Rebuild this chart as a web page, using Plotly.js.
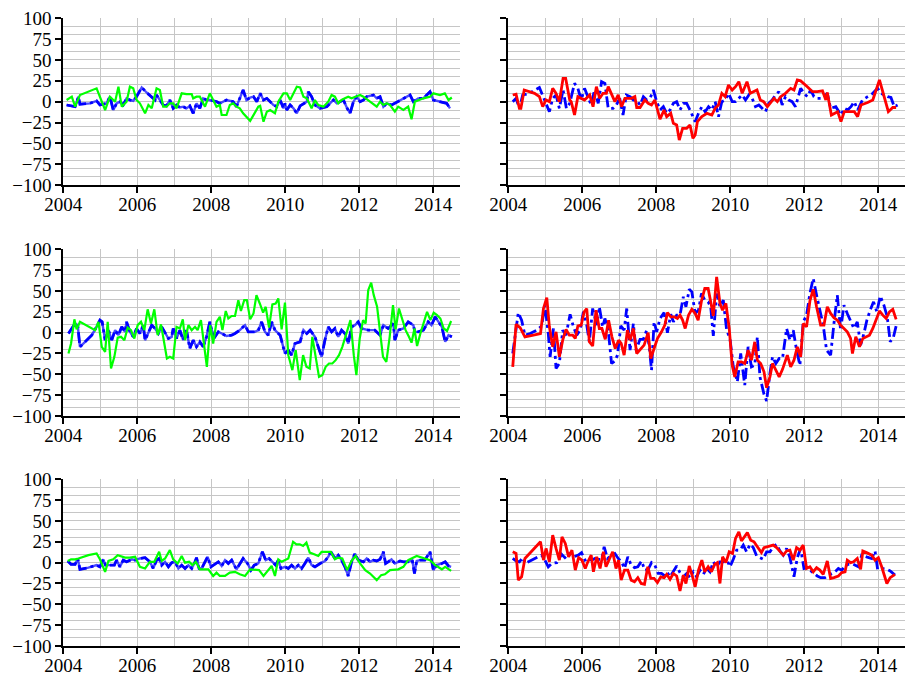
<!DOCTYPE html>
<html>
<head>
<meta charset="utf-8">
<script src="https://cdn.plot.ly/plotly-3.0.1.min.js"></script>
<style>html,body{margin:0;padding:0;background:#fff;}#chart{width:908px;height:676px;}</style>
</head>
<body>
<div id="chart"></div>
<script>
// ---------- data (decimal years, values) ----------
// Panel 1 (top-left)
var p1BlueX = [2004.09,2004.23,2004.32,2004.41,2004.45,2004.72,2004.90,2004.99,
  2005.17,2005.26,2005.35,2005.44,2005.53,2005.62,2005.71,2005.80,2005.89,2005.98,
  2006.12,2006.25,2006.39,2006.48,2006.52,2006.61,2006.70,2006.79,2006.88,2006.97,
  2007.06,2007.15,2007.24,2007.33,2007.42,2007.51,2007.60,2007.69,2007.78,2007.87,2007.96,
  2008.14,2008.23,2008.41,2008.59,2008.68,2008.77,2008.86,2008.95,
  2009.05,2009.14,2009.23,2009.32,2009.41,2009.50,2009.59,2009.68,2009.77,2009.86,2009.95,2009.99,
  2010.04,2010.13,2010.22,2010.31,2010.40,2010.49,2010.58,2010.62,2010.71,2010.80,2010.94,
  2011.12,2011.30,2011.39,2011.48,2011.57,2011.66,2011.75,2011.84,2011.93,
  2012.02,2012.11,2012.20,2012.38,2012.47,2012.56,2012.65,2012.74,2012.87,2012.96,
  2013.05,2013.14,2013.23,2013.37,2013.46,2013.59,2013.73,2013.91,
  2014.00,2014.18,2014.36,2014.45];
var p1BlueY = [-4,-5,-6,6,-3,-2,1,-4,
  -2,6,-10,-2,0,-4,4,2,1,6,
  17,11,6,2,8,2,-4,-5,2,-8,
  -4,-7,-6,-8,-5,-14,-2,-8,4,2,2,
  0,-2,2,0,-6,4,14,2,
  5,6,0,10,2,4,0,-4,-6,2,-8,-2,
  -10,-4,-8,-14,-5,-2,0,12,6,-4,-8,
  -6,2,-2,0,2,-7,-14,0,6,
  0,2,6,8,4,6,-6,-2,-4,-2,
  0,2,4,8,0,4,4,12,
  2,0,-2,-8];
var p1GreenX = [2004.09,2004.23,2004.32,2004.45,2004.90,2004.99,
  2005.13,2005.26,2005.40,2005.49,2005.58,2005.71,2005.80,2005.89,2005.98,
  2006.07,2006.21,2006.30,2006.39,2006.52,2006.61,2006.70,2006.79,2006.88,2006.97,
  2007.06,2007.20,2007.33,2007.47,2007.51,2007.60,2007.69,2007.83,2007.96,
  2008.05,2008.14,2008.23,2008.28,2008.41,2008.50,2008.59,2008.68,2008.77,2008.86,
  2009.05,2009.27,2009.32,2009.41,2009.50,2009.59,2009.72,2009.81,2009.95,
  2010.04,2010.13,2010.31,2010.40,2010.49,2010.58,2010.71,2010.80,2010.89,
  2011.03,2011.16,2011.25,2011.34,2011.43,2011.52,2011.61,2011.70,2011.79,2011.93,
  2012.02,2012.11,2012.47,2012.56,2012.65,2012.74,2012.83,2012.96,
  2013.05,2013.19,2013.32,2013.41,2013.50,2013.73,2013.91,
  2014.00,2014.18,2014.31,2014.41,2014.50];
var p1GreenY = [2,6,-6,8,16,6,
  -10,6,0,18,-6,0,18,16,2,
  -2,-14,-4,-8,16,14,-6,-6,-2,-2,
  -8,10,9,9,4,6,6,-6,10,
  2,-6,-4,-16,-16,-4,-2,-6,-8,-14,
  -23,-6,-5,-24,-12,-10,-14,0,10,
  10,2,18,17,6,4,-8,2,-4,
  -6,0,8,6,-2,2,4,6,4,6,
  8,6,-6,0,-4,-2,-4,-12,
  -6,-10,-6,-21,0,4,6,
  10,8,10,2,5];

// Panel 2 (top-right)
var p2BlueX = [2004.12,2004.21,2004.30,2004.39,2004.57,2004.71,2004.84,2004.98,
  2005.11,2005.20,2005.29,2005.38,2005.48,2005.57,2005.66,2005.79,2005.88,2005.97,
  2006.06,2006.15,2006.24,2006.33,2006.43,2006.52,2006.61,2006.70,2006.83,2006.92,
  2007.01,2007.10,2007.19,2007.29,2007.38,2007.47,2007.56,2007.65,2007.74,2007.83,2007.92,
  2008.01,2008.10,2008.19,2008.28,2008.37,2008.46,2008.55,2008.64,2008.73,2008.82,2008.91,
  2009.05,2009.14,2009.23,2009.32,2009.41,2009.50,2009.59,2009.68,2009.77,2009.86,2009.95,
  2010.05,2010.14,2010.23,2010.32,2010.41,2010.50,2010.59,2010.68,2010.77,2010.86,2010.95,
  2011.04,2011.13,2011.22,2011.31,2011.40,2011.49,2011.58,2011.67,2011.76,2011.90,2011.99,
  2012.08,2012.17,2012.26,2012.35,2012.49,2012.62,2012.71,2012.85,2012.99,
  2013.08,2013.17,2013.26,2013.35,2013.44,2013.57,2013.71,2013.85,2013.98,
  2014.07,2014.25,2014.34,2014.43,2014.52];
var p2BlueY = [0,4,-8,8,10,14,17,2,
  -12,4,8,-8,14,-8,-2,22,16,2,
  16,6,-4,14,-2,24,22,-8,-8,-4,
  4,-16,8,6,2,2,-4,6,2,4,14,
  0,-10,-6,-14,-10,-2,0,-10,-2,-2,-10,
  -24,-14,-6,-12,-6,-10,0,-18,0,2,10,
  0,0,4,8,2,8,4,-6,-4,-8,-12,
  -2,2,8,12,-4,6,2,0,-6,16,10,
  6,14,6,4,4,10,-8,-6,-16,
  -8,-10,-6,0,-10,2,6,10,16,
  10,6,5,-6,-4];
var p2RedX = [2004.12,2004.21,2004.30,2004.34,2004.43,2004.57,2004.71,2004.84,2004.93,
  2005.02,2005.11,2005.20,2005.29,2005.38,2005.48,2005.55,2005.66,2005.70,2005.79,2005.88,2005.97,
  2006.06,2006.20,2006.29,2006.38,2006.47,2006.56,2006.65,2006.70,2006.79,2006.88,2006.97,
  2007.06,2007.15,2007.33,2007.42,2007.47,2007.56,2007.69,2007.78,2007.87,2007.96,
  2008.10,2008.21,2008.28,2008.39,2008.46,2008.55,2008.62,2008.71,2008.82,2008.91,2008.99,
  2009.05,2009.11,2009.23,2009.37,2009.50,2009.59,2009.68,2009.77,2009.86,2009.95,
  2010.05,2010.14,2010.23,2010.32,2010.45,2010.54,2010.72,2010.81,2010.90,
  2011.00,2011.18,2011.27,2011.36,2011.49,2011.63,2011.72,2011.81,2011.90,
  2012.08,2012.22,2012.35,2012.49,2012.58,2012.62,2012.73,2012.90,2012.99,
  2013.08,2013.26,2013.35,2013.44,2013.53,2013.71,2013.85,
  2014.03,2014.16,2014.27,2014.39,2014.48];
var p2RedY = [8,9,-8,-8,14,12,10,6,-6,
  2,0,16,10,0,28,28,2,0,-16,6,4,
  2,8,-6,18,4,10,10,18,8,0,8,
  -6,4,4,6,-7,-7,2,-2,-4,2,
  -21,-10,-18,-14,-26,-28,-46,-32,-32,-28,-44,
  -40,-24,-18,-14,-16,-8,-4,10,6,20,
  14,18,24,10,24,10,14,2,0,
  -6,4,0,6,10,16,14,26,25,
  18,12,12,13,2,11,-16,-12,-24,
  -12,-12,-12,-18,-4,-1,2,
  26,4,-12,-7,-7];

// Panel 3 (middle-left)
var p3BlueX = [2004.14,2004.23,2004.32,2004.39,2004.45,2004.59,2004.77,2004.90,2004.99,
  2005.05,2005.13,2005.22,2005.31,2005.40,2005.49,2005.58,2005.67,2005.71,2005.80,2005.89,2005.98,
  2006.07,2006.16,2006.21,2006.30,2006.39,2006.48,2006.57,2006.66,2006.75,2006.84,2006.93,2006.97,
  2007.06,2007.15,2007.24,2007.33,2007.42,2007.51,2007.60,2007.69,2007.78,2007.87,2007.96,
  2008.01,2008.10,2008.19,2008.28,2008.41,2008.55,2008.64,2008.77,2008.91,
  2009.00,2009.18,2009.27,2009.36,2009.45,2009.54,2009.63,2009.72,2009.86,2009.99,
  2010.08,2010.17,2010.26,2010.40,2010.49,2010.58,2010.67,2010.80,2010.89,2010.98,
  2011.07,2011.16,2011.25,2011.34,2011.43,2011.52,2011.61,2011.70,2011.79,2011.88,2011.97,
  2012.06,2012.24,2012.42,2012.56,2012.65,2012.78,2012.92,2012.96,
  2013.05,2013.19,2013.32,2013.46,2013.50,2013.59,2013.73,2013.86,2013.95,
  2014.05,2014.14,2014.23,2014.32,2014.41,2014.50];
var p3BlueY = [-1,5,11,9,-17,-11,-3,7,15,
  13,-9,3,-9,3,-3,7,1,13,1,-5,5,
  -1,9,-9,1,9,5,-1,7,-1,-7,-5,5,
  -7,3,-9,3,-19,-9,-17,-11,-17,-5,13,
  3,-5,1,-1,-4,-3,-1,3,9,
  1,1,3,13,1,-3,13,3,-3,-25,
  -21,-27,-13,-11,3,-1,3,-5,-17,-29,
  -9,7,1,5,-5,3,-1,-13,7,9,13,
  5,3,3,-3,9,5,11,-9,
  3,5,13,9,1,1,3,13,9,
  19,13,7,-11,-3,-5];
var p3GreenX = [2004.14,2004.21,2004.30,2004.36,2004.45,2004.86,2004.95,
  2005.04,2005.13,2005.20,2005.29,2005.38,2005.47,2005.56,2005.65,2005.74,2005.83,2005.92,
  2006.01,2006.10,2006.19,2006.28,2006.37,2006.46,2006.55,2006.64,2006.73,2006.80,2006.88,2006.97,
  2007.06,2007.15,2007.23,2007.29,2007.38,2007.47,2007.56,2007.63,2007.72,2007.81,2007.88,2007.97,
  2008.05,2008.14,2008.23,2008.30,2008.39,2008.46,2008.55,2008.64,2008.73,2008.80,2008.89,2008.96,
  2009.05,2009.14,2009.22,2009.31,2009.40,2009.47,2009.56,2009.65,2009.74,2009.81,2009.90,2009.99,
  2010.08,2010.19,2010.28,2010.39,2010.48,2010.57,2010.66,2010.73,2010.80,2010.91,
  2011.00,2011.09,2011.18,2011.27,2011.36,2011.45,2011.54,2011.63,2011.76,2011.85,2011.92,
  2012.01,2012.10,2012.17,2012.24,2012.32,2012.39,2012.48,2012.57,2012.64,2012.73,2012.82,2012.91,2012.98,
  2013.07,2013.16,2013.25,2013.34,2013.41,2013.49,2013.56,2013.65,2013.74,2013.83,2013.92,
  2014.01,2014.10,2014.19,2014.28,2014.37,2014.48];
var p3GreenY = [-25,-13,16,4,13,3,13,
  -17,-23,13,-43,-29,-6,-5,-9,6,3,-7,
  9,13,3,28,11,28,-3,10,-13,-31,-29,-31,
  7,5,16,-9,9,3,7,3,15,-13,-41,9,
  -13,13,19,3,26,17,20,20,39,26,39,39,
  16,23,45,35,24,31,6,34,35,41,4,36,
  -27,-45,-21,-57,-27,-41,-43,-5,-25,-53,
  -51,-41,-37,-37,-33,-27,-17,-5,15,-27,-51,
  -7,15,11,51,60,45,31,-1,-29,-35,-5,33,4,
  29,17,3,-5,-12,5,-16,-1,11,25,15,
  24,21,17,5,2,14];

// Panel 4 (middle-right)
var p4BlueX = [2004.12,2004.21,2004.27,2004.36,2004.45,2004.59,2004.77,2004.90,2004.99,
  2005.08,2005.13,2005.22,2005.29,2005.38,2005.47,2005.56,2005.67,2005.76,2005.85,2005.94,
  2006.03,2006.12,2006.19,2006.28,2006.39,2006.46,2006.55,2006.61,2006.70,2006.79,2006.88,2006.95,
  2007.04,2007.13,2007.20,2007.29,2007.38,2007.45,2007.56,2007.65,2007.74,2007.81,2007.87,2007.94,
  2008.01,2008.10,2008.21,2008.30,2008.39,2008.46,2008.55,2008.64,2008.73,2008.80,2008.89,2008.96,
  2009.05,2009.14,2009.22,2009.31,2009.40,2009.47,2009.54,2009.63,2009.72,2009.81,2009.90,2009.99,
  2010.08,2010.19,2010.28,2010.39,2010.48,2010.57,2010.66,2010.73,2010.80,2010.91,2010.98,
  2011.07,2011.14,2011.23,2011.32,2011.41,2011.52,2011.61,2011.70,2011.79,2011.88,2011.97,
  2012.06,2012.15,2012.24,2012.33,2012.42,2012.51,2012.60,2012.71,2012.80,2012.89,2012.98,
  2013.07,2013.16,2013.25,2013.34,2013.43,2013.52,2013.61,2013.69,2013.78,2013.87,2013.96,
  2014.05,2014.15,2014.24,2014.32,2014.41,2014.48];
var p4BlueY = [-25,7,24,15,-3,-1,3,8,33,
  -1,-29,5,-43,-37,3,-3,22,7,-3,3,
  25,9,-11,29,9,31,7,17,3,-37,-34,-27,
  8,3,29,-21,11,-21,-8,-8,3,-17,-45,13,
  1,17,24,0,22,13,21,21,43,31,52,49,
  23,27,47,39,37,31,-4,47,31,39,3,-7,
  -41,-59,-25,-63,-17,-41,-39,-5,-53,-74,-82,
  -49,-29,-37,-31,-31,5,-9,3,-21,-39,13,
  21,47,65,45,25,9,-21,-27,11,45,3,
  33,23,13,5,13,-15,-1,15,27,37,25,
  44,33,19,-11,-5,8];
var p4RedX = [2004.12,2004.21,2004.32,2004.45,2004.68,2004.87,2004.95,
  2005.04,2005.11,2005.20,2005.29,2005.38,2005.47,2005.56,2005.65,2005.74,2005.81,2005.88,2005.97,
  2006.05,2006.12,2006.19,2006.28,2006.37,2006.46,2006.53,2006.62,2006.71,2006.80,2006.89,2006.98,
  2007.05,2007.13,2007.22,2007.29,2007.38,2007.47,2007.56,2007.67,2007.78,2007.85,2007.94,
  2008.03,2008.14,2008.23,2008.30,2008.39,2008.48,2008.57,2008.64,2008.71,2008.78,2008.87,2008.96,
  2009.05,2009.13,2009.22,2009.31,2009.40,2009.47,2009.54,2009.63,2009.72,2009.79,2009.88,2009.97,
  2010.05,2010.12,2010.21,2010.30,2010.39,2010.48,2010.57,2010.66,2010.73,2010.82,2010.91,2010.98,
  2011.07,2011.14,2011.23,2011.32,2011.41,2011.54,2011.63,2011.72,2011.81,2011.90,2011.97,
  2012.06,2012.15,2012.24,2012.33,2012.44,2012.53,2012.62,2012.71,2012.80,2012.89,2012.98,
  2013.07,2013.16,2013.25,2013.30,2013.39,2013.49,2013.58,2013.67,2013.76,2013.85,2013.94,
  2014.03,2014.12,2014.21,2014.30,2014.39,2014.48];
var p4RedY = [-41,10,6,-5,-3,-1,29,
  42,7,-17,1,-29,-9,4,-3,-3,-7,8,9,
  25,29,-11,-16,27,5,5,-8,15,-5,-19,-9,
  -13,-27,3,-9,5,-25,-21,-15,0,-31,-19,
  -7,1,9,24,19,19,17,21,15,5,21,28,
  23,15,38,53,53,37,20,67,35,27,35,5,
  -39,-53,-35,-35,-37,-21,-33,-11,-33,-37,-47,-66,
  -53,-37,-45,-53,-44,-27,-41,-33,-17,-29,11,
  7,38,52,31,9,9,31,23,18,15,9,
  5,1,-7,-25,-5,-17,-7,-5,-3,5,15,
  26,21,17,25,28,16];

// Panel 5 (bottom-left)
var p5BlueX = [2004.12,2004.21,2004.32,2004.39,2004.45,2004.68,2004.90,2004.99,
  2005.08,2005.14,2005.26,2005.38,2005.44,2005.53,2005.62,2005.71,2005.85,2005.94,
  2006.07,2006.21,2006.34,2006.43,2006.52,2006.59,2006.66,2006.75,2006.84,2006.93,
  2007.02,2007.11,2007.20,2007.29,2007.38,2007.47,2007.56,2007.60,2007.67,2007.74,2007.83,2007.90,2007.99,
  2008.08,2008.19,2008.28,2008.37,2008.46,2008.55,2008.68,2008.77,2008.86,2008.98,
  2009.07,2009.16,2009.27,2009.38,2009.47,2009.56,2009.65,2009.74,2009.81,2009.88,2009.99,
  2010.08,2010.17,2010.26,2010.35,2010.44,2010.53,2010.62,2010.71,2010.80,2010.94,
  2011.07,2011.16,2011.23,2011.34,2011.43,2011.52,2011.61,2011.70,2011.79,2011.88,2011.97,
  2012.11,2012.20,2012.29,2012.38,2012.47,2012.56,2012.65,2012.71,2012.78,2012.87,2012.96,
  2013.10,2013.19,2013.32,2013.43,2013.49,2013.55,2013.64,2013.77,2013.91,
  2014.00,2014.09,2014.23,2014.32,2014.41,2014.48];
var p5BlueY = [2,-2,-2,5,-8,-6,-3,-5,
  4,-3,-3,-3,3,-5,3,1,4,3,
  5,6,1,-7,3,5,-3,1,-5,0,
  1,-7,-3,-7,-3,-7,1,6,-7,-7,1,7,-5,
  -2,1,-4,3,-1,3,-8,-1,5,-1,
  -9,-3,-1,13,3,5,1,-3,3,-7,-5,
  -7,-3,-7,-3,-7,-1,6,-3,-5,-1,
  2,7,13,5,9,3,-5,-16,1,11,3,
  1,5,1,3,2,4,13,-1,1,4,-1,
  2,1,1,3,-13,2,3,3,13,
  -9,-3,-1,1,-4,-5];
var p5GreenX = [2004.12,2004.21,2004.32,2004.41,2004.68,2004.90,2004.99,
  2005.13,2005.22,2005.35,2005.47,2005.56,2005.67,2005.80,2005.94,
  2006.07,2006.21,2006.34,2006.46,2006.59,2006.66,2006.75,2006.88,2006.97,
  2007.09,2007.20,2007.29,2007.40,2007.49,2007.58,2007.69,2007.78,2007.92,
  2008.05,2008.14,2008.23,2008.37,2008.50,2008.64,2008.77,2008.91,
  2009.05,2009.18,2009.29,2009.41,2009.54,2009.63,2009.72,2009.81,2009.90,2009.99,
  2010.08,2010.21,2010.30,2010.39,2010.48,2010.57,2010.66,2010.78,2010.89,2010.98,
  2011.12,2011.23,2011.34,2011.43,2011.54,2011.67,2011.79,2011.90,
  2012.02,2012.16,2012.29,2012.47,2012.59,2012.69,2012.83,2012.96,
  2013.05,2013.19,2013.32,2013.55,2013.68,2013.91,
  2014.05,2014.23,2014.32,2014.48];
var p5GreenY = [2,4,4,5,9,11,4,
  -11,2,4,9,8,6,6,7,
  -5,-7,1,1,13,2,5,15,4,
  -1,8,0,1,-3,1,-8,-8,-8,
  -16,-12,-16,-16,-12,-11,-14,-16,
  -8,-9,-9,-16,-9,-4,-16,4,1,3,
  5,25,22,22,20,24,12,10,8,13,
  13,13,4,6,5,-9,2,8,
  -1,-9,-13,-21,-15,-14,-9,-8,
  -8,-5,3,8,6,3,
  -3,-8,-5,-10];

// Panel 6 (bottom-right)
var p6BlueX = [2004.12,2004.21,2004.30,2004.39,2004.45,2004.68,2004.90,2004.99,
  2005.08,2005.17,2005.31,2005.44,2005.53,2005.67,2005.76,2005.89,2005.98,
  2006.07,2006.16,2006.25,2006.34,2006.43,2006.52,2006.59,2006.68,2006.79,2006.88,2006.97,
  2007.06,2007.14,2007.23,2007.32,2007.41,2007.50,2007.60,2007.69,2007.78,2007.87,2007.96,
  2008.05,2008.14,2008.23,2008.28,2008.37,2008.46,2008.55,2008.64,2008.73,2008.82,2008.91,
  2009.00,2009.09,2009.18,2009.27,2009.36,2009.45,2009.54,2009.63,2009.72,2009.81,2009.90,2009.99,
  2010.08,2010.17,2010.26,2010.35,2010.44,2010.53,2010.62,2010.71,2010.80,2010.89,2010.98,
  2011.07,2011.16,2011.25,2011.34,2011.43,2011.52,2011.61,2011.72,2011.81,2011.90,2011.99,
  2012.08,2012.17,2012.26,2012.35,2012.44,2012.56,2012.65,2012.74,2012.83,2012.92,
  2013.01,2013.10,2013.19,2013.32,2013.46,2013.55,2013.68,2013.82,2013.91,2013.98,
  2014.09,2014.23,2014.32,2014.45];
var p6BlueY = [5,2,1,6,-1,4,9,3,
  -5,-1,0,10,6,11,7,9,12,
  3,5,3,5,4,4,19,5,9,11,5,
  1,-7,7,-3,-6,-5,2,-9,-8,0,-3,
  -13,-13,-16,-11,-17,-11,-4,-12,-17,-13,-18,
  -11,-17,-9,-14,-7,-11,1,-5,1,1,4,-5,
  4,15,15,21,13,22,18,8,6,4,13,
  13,19,22,14,9,17,6,-17,6,17,-7,
  -6,-10,-13,-16,-18,-18,-15,-13,-11,-7,
  -9,-4,-2,-2,-5,9,7,5,14,-8,
  -7,-8,-10,-15];
var p6RedX = [2004.12,2004.21,2004.27,2004.36,2004.45,2004.87,2004.95,
  2005.02,2005.11,2005.20,2005.29,2005.38,2005.45,2005.54,2005.63,2005.72,2005.81,2005.90,2005.99,
  2006.08,2006.15,2006.24,2006.30,2006.39,2006.48,2006.57,2006.64,2006.73,2006.82,2006.91,2006.98,
  2007.05,2007.14,2007.23,2007.32,2007.41,2007.50,2007.59,2007.68,2007.77,2007.85,2007.94,
  2008.03,2008.12,2008.21,2008.28,2008.37,2008.46,2008.55,2008.64,2008.73,2008.80,2008.89,2008.98,
  2009.05,2009.14,2009.23,2009.31,2009.40,2009.49,2009.58,2009.65,2009.72,2009.79,2009.88,2009.97,
  2010.06,2010.14,2010.23,2010.30,2010.39,2010.46,2010.55,2010.64,2010.73,2010.84,2010.91,
  2011.04,2011.16,2011.25,2011.34,2011.43,2011.52,2011.61,2011.70,2011.79,2011.88,2011.97,
  2012.06,2012.15,2012.24,2012.33,2012.42,2012.51,2012.62,2012.71,2012.80,2012.92,
  2013.01,2013.10,2013.16,2013.25,2013.33,2013.43,2013.52,2013.58,2013.68,2013.82,2013.91,
  2014.00,2014.09,2014.23,2014.32,2014.45];
var p6RedY = [13,11,-21,-17,5,25,3,
  17,1,33,17,3,31,23,7,15,-9,6,3,
  -7,1,9,-11,7,-7,13,-5,3,13,-7,3,
  -21,-9,-9,-21,-23,-18,-25,-26,-5,-19,-19,
  -24,-17,-18,-14,-20,-13,-16,-34,-15,-25,-4,-17,
  -29,-9,3,-11,-5,-11,-2,0,-25,7,0,13,
  11,29,37,26,31,36,27,25,19,12,18,
  20,21,18,13,9,14,15,3,18,15,21,
  -7,-5,-11,-6,-9,-14,2,-19,-18,-16,
  -12,-11,3,0,1,5,-8,14,12,9,3,
  6,-5,-25,-18,-14];

// axis ranges
var xRange = [2004, 2014.72];
var yRange = [-100, 100];

// ---------- build ----------
var BLUE = '#0000ff', GREEN = '#00ff00', RED = '#ff0000';
var GRID = '#c6c6c6';
var FONT = {family: '"Liberation Serif", "Times New Roman", serif', size: 19, color: '#000'};
var DASHDOT = '11px,4px,3px,4px';

var panels = [
  {series: [[p1BlueX, p1BlueY, 'leftblue'], [p1GreenX, p1GreenY, 'green']]},
  {series: [[p2BlueX, p2BlueY, 'dashblue'], [p2RedX, p2RedY, 'red']]},
  {series: [[p3BlueX, p3BlueY, 'leftblue'], [p3GreenX, p3GreenY, 'green']]},
  {series: [[p4BlueX, p4BlueY, 'dashblue'], [p4RedX, p4RedY, 'red']]},
  {series: [[p5BlueX, p5BlueY, 'leftblue'], [p5GreenX, p5GreenY, 'green']]},
  {series: [[p6BlueX, p6BlueY, 'dashblue'], [p6RedX, p6RedY, 'red']]}
];

var xDomains = [[0.0697, 0.5066], [0.5598, 0.9967]];
var yDomains = [[0.7263, 0.9729], [0.3846, 0.6312], [0.0444, 0.2910]];

var traces = [];
var layout = {
  width: 908, height: 676,
  margin: {l: 0, r: 0, t: 0, b: 0},
  paper_bgcolor: '#fff', plot_bgcolor: '#fff',
  showlegend: false,
  font: FONT
};

panels.forEach(function (p, i) {
  var n = i + 1;
  var row = Math.floor(i / 2), col = i % 2;
  var xa = 'x' + n, ya = 'y' + n, yg = 'y' + (n + 6);
  layout['xaxis' + n] = {
    domain: xDomains[col], anchor: ya, range: xRange,
    tick0: 2004, dtick: 2, ticks: 'outside', ticklen: 6, tickwidth: 2, tickcolor: '#000',
    ticklabelstandoff: -5,
    showline: true, linecolor: '#000', linewidth: 2,
    showgrid: true, gridcolor: GRID, gridwidth: 1, zeroline: false,
    minor: {dtick: 1, tick0: 2004, showgrid: true, gridcolor: GRID, gridwidth: 1, ticks: ''},
    tickfont: FONT, fixedrange: true
  };
  layout['yaxis' + n] = {
    domain: yDomains[row], anchor: xa, range: yRange,
    tick0: 0, dtick: 25, ticks: 'outside', ticklen: 6, tickwidth: 2, tickcolor: '#000',
    showline: true, linecolor: '#000', linewidth: 2,
    showgrid: false, zeroline: false,
    showticklabels: col === 0, tickfont: FONT, fixedrange: true
  };
  layout['yaxis' + (n + 6)] = {
    overlaying: ya, anchor: xa, range: yRange,
    tick0: 0, dtick: 10, ticks: '', showticklabels: false,
    showline: false, showgrid: true, gridcolor: GRID, gridwidth: 1, zeroline: false,
    fixedrange: true
  };
  traces.push({x: [], y: [], xaxis: xa, yaxis: yg, type: 'scatter', mode: 'lines', hoverinfo: 'skip'});
  p.series.forEach(function (s) {
    var kind = s[2];
    if (kind === 'leftblue') {
      traces.push({x: s[0], y: s[1], xaxis: xa, yaxis: ya, type: 'scatter', mode: 'lines',
        line: {color: 'rgba(30,30,255,0.8)', width: 2.4}, hoverinfo: 'skip'});
      traces.push({x: s[0], y: s[1], xaxis: xa, yaxis: ya, type: 'scatter', mode: 'lines',
        line: {color: BLUE, width: 2.8, dash: DASHDOT}, hoverinfo: 'skip'});
    } else if (kind === 'dashblue') {
      traces.push({x: s[0], y: s[1], xaxis: xa, yaxis: ya, type: 'scatter', mode: 'lines',
        line: {color: BLUE, width: 2.8, dash: DASHDOT}, hoverinfo: 'skip'});
    } else if (kind === 'green') {
      traces.push({x: s[0], y: s[1], xaxis: xa, yaxis: ya, type: 'scatter', mode: 'lines',
        line: {color: GREEN, width: 2.2}, hoverinfo: 'skip'});
    } else {
      traces.push({x: s[0], y: s[1], xaxis: xa, yaxis: ya, type: 'scatter', mode: 'lines',
        line: {color: RED, width: 2.8}, hoverinfo: 'skip'});
    }
  });
});

Plotly.newPlot('chart', traces, layout, {staticPlot: true, displayModeBar: false});
</script>
</body>
</html>
